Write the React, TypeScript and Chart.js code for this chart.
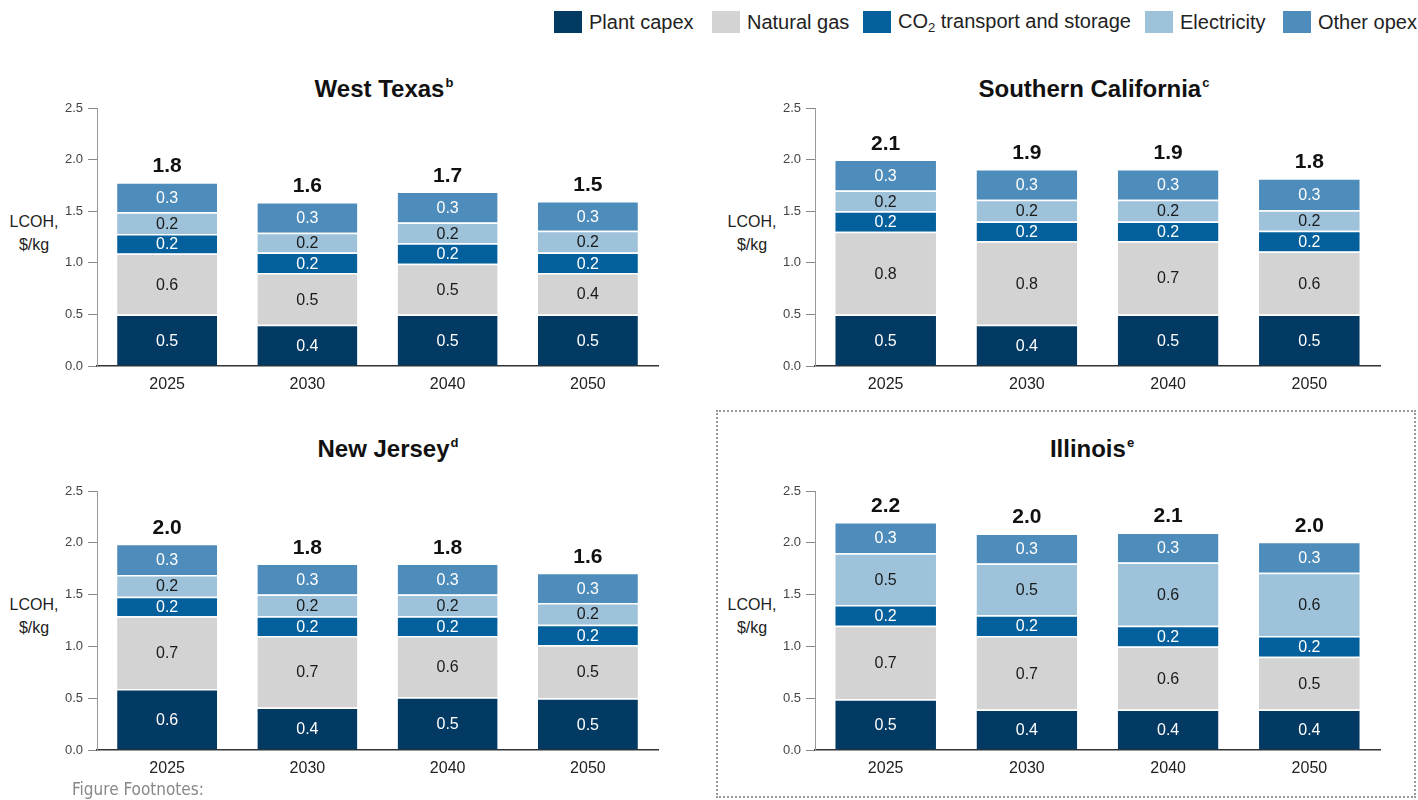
import React, { useEffect, useRef } from "react";
import { Chart, registerables } from "chart.js";

Chart.register(...registerables);
Chart.defaults.font.family = '"Liberation Sans", Arial, Helvetica, sans-serif';

// ---------- data ----------
const years = ["2025", "2030", "2040", "2050"];
const seriesNames = ["Plant capex", "Natural gas", "CO2 transport and storage", "Electricity", "Other opex"];
const seriesColors = ["#023A63", "#D3D3D3", "#03609C", "#9DC2DA", "#4E8DBB"];
const segmentLabelColors = ["#FFFFFF", "#1A1A1A", "#FFFFFF", "#1A1A1A", "#FFFFFF"];
const yTickValues = [0, 0.5, 1.0, 1.5, 2.0, 2.5];

const westTexasCapex = [0.5, 0.4, 0.5, 0.5];
const westTexasGas = [0.59, 0.5, 0.49, 0.4];
const westTexasCo2 = [0.19, 0.2, 0.2, 0.2];
const westTexasElectricity = [0.21, 0.19, 0.2, 0.21];
const westTexasOther = [0.29, 0.3, 0.3, 0.29];
const westTexasTotals = ["1.8", "1.6", "1.7", "1.5"];

const socalCapex = [0.5, 0.4, 0.5, 0.5];
const socalGas = [0.8, 0.81, 0.71, 0.61];
const socalCo2 = [0.2, 0.19, 0.19, 0.2];
const socalElectricity = [0.2, 0.21, 0.21, 0.2];
const socalOther = [0.3, 0.3, 0.3, 0.31];
const socalTotals = ["2.1", "1.9", "1.9", "1.8"];

const newJerseyCapex = [0.59, 0.41, 0.51, 0.5];
const newJerseyGas = [0.7, 0.69, 0.59, 0.51];
const newJerseyCo2 = [0.19, 0.19, 0.19, 0.2];
const newJerseyElectricity = [0.21, 0.21, 0.21, 0.21];
const newJerseyOther = [0.3, 0.3, 0.3, 0.29];
const newJerseyTotals = ["2.0", "1.8", "1.8", "1.6"];

const illinoisCapex = [0.49, 0.39, 0.39, 0.39];
const illinoisGas = [0.71, 0.71, 0.61, 0.51];
const illinoisCo2 = [0.2, 0.2, 0.2, 0.2];
const illinoisElectricity = [0.5, 0.5, 0.61, 0.61];
const illinoisOther = [0.3, 0.29, 0.29, 0.3];
const illinoisTotals = ["2.2", "2.0", "2.1", "2.0"];

// ---------- layout ----------
const AXW = 60; // y-axis width
const AXH = 32; // x-axis height
const PAD_T = 20;
const PAD_R = 10;

type PanelDef = {
  title: string;
  sup: string;
  series: number[][];
  totals: string[];
  plot: { left: number; top: number; right: number; bottom: number };
  titleCenter: number;
  titleTop: number;
};

const panels: PanelDef[] = [
  {
    title: "West Texas",
    sup: "b",
    series: [westTexasCapex, westTexasGas, westTexasCo2, westTexasElectricity, westTexasOther],
    totals: westTexasTotals,
    plot: { left: 97, top: 108, right: 658, bottom: 366 },
    titleCenter: 384,
    titleTop: 77,
  },
  {
    title: "Southern California",
    sup: "c",
    series: [socalCapex, socalGas, socalCo2, socalElectricity, socalOther],
    totals: socalTotals,
    plot: { left: 815, top: 108, right: 1380, bottom: 366 },
    titleCenter: 1094,
    titleTop: 77,
  },
  {
    title: "New Jersey",
    sup: "d",
    series: [newJerseyCapex, newJerseyGas, newJerseyCo2, newJerseyElectricity, newJerseyOther],
    totals: newJerseyTotals,
    plot: { left: 97, top: 491, right: 658, bottom: 750 },
    titleCenter: 388,
    titleTop: 437,
  },
  {
    title: "Illinois",
    sup: "e",
    series: [illinoisCapex, illinoisGas, illinoisCo2, illinoisElectricity, illinoisOther],
    totals: illinoisTotals,
    plot: { left: 815, top: 491, right: 1380, bottom: 750 },
    titleCenter: 1092,
    titleTop: 437,
  },
];

function Panel({ p }: { p: PanelDef }) {
  const ref = useRef<HTMLCanvasElement | null>(null);
  const width = p.plot.right - p.plot.left + AXW + PAD_R;
  const height = p.plot.bottom - p.plot.top + PAD_T + AXH;

  useEffect(() => {
    if (!ref.current) return;
    const labelPlugin = {
      id: "segmentAndTotals",
      afterDatasetsDraw(chart: any) {
        const ctx = chart.ctx;
        ctx.save();
        ctx.textAlign = "center";
        ctx.textBaseline = "alphabetic";
        chart.data.datasets.forEach((ds: any, i: number) => {
          const meta = chart.getDatasetMeta(i);
          ctx.font = '16px "Liberation Sans", Arial, sans-serif';
          ctx.fillStyle = segmentLabelColors[i];
          meta.data.forEach((bar: any, j: number) => {
            const v = ds.data[j] as number;
            const cy = (bar.y + bar.base) / 2;
            ctx.fillText(v.toFixed(1), bar.x, cy + 5.7);
          });
        });
        const last = chart.getDatasetMeta(chart.data.datasets.length - 1);
        ctx.font = 'bold 21px "Liberation Sans", Arial, sans-serif';
        ctx.fillStyle = "#111111";
        last.data.forEach((bar: any, j: number) => {
          ctx.fillText(p.totals[j], bar.x, bar.y - 10);
        });
        ctx.restore();
      },
    };

    const chart = new Chart(ref.current, {
      type: "bar",
      data: {
        labels: years,
        datasets: p.series.map((d, i) => ({
          label: seriesNames[i],
          data: d,
          backgroundColor: seriesColors[i],
          borderColor: "rgba(255,255,255,0.85)",
          borderWidth: { top: 1.5, bottom: 0, left: 0, right: 0 },
          borderSkipped: false,
          categoryPercentage: 1,
          barPercentage: 0.713,
        })),
      },
      options: {
        responsive: false,
        animation: false,
        devicePixelRatio: 1,
        layout: { padding: { top: PAD_T, right: PAD_R, left: 0, bottom: 0 } },
        plugins: {
          legend: { display: false },
          tooltip: { enabled: false },
          title: { display: false },
        },
        scales: {
          x: {
            stacked: true,
            grid: { display: false, drawTicks: false },
            border: { display: true, color: "#333333", width: 1.5 },
            ticks: { color: "#222222", font: { size: 16 }, padding: 9 },
            afterFit: (s: any) => {
              s.height = AXH;
            },
          },
          y: {
            stacked: true,
            min: 0,
            max: 2.5,
            afterBuildTicks: (s: any) => {
              s.ticks = yTickValues.map((v) => ({ value: v }));
            },
            ticks: {
              color: "#444444",
              font: { size: 13 },
              padding: 5,
              callback: (v: any) => Number(v).toFixed(1),
            },
            grid: { drawOnChartArea: false, drawTicks: true, tickLength: 9, color: "#888888" },
            border: { display: true, color: "#999999", width: 1 },
            afterFit: (s: any) => {
              s.width = AXW;
            },
          },
        },
      } as any,
      plugins: [labelPlugin],
    });
    return () => chart.destroy();
  }, [p]);

  return (
    <>
      <div
        style={{
          position: "absolute",
          left: p.titleCenter - 250,
          width: 500,
          top: p.titleTop,
          textAlign: "center",
          fontSize: 24,
          lineHeight: "24px",
          fontWeight: "bold",
          color: "#111",
          whiteSpace: "nowrap",
        }}
      >
        {p.title}
        <span style={{ fontSize: 13, position: "relative", top: -10, marginLeft: 1 }}>{p.sup}</span>
      </div>
      <div
        style={{
          position: "absolute",
          left: p.plot.left - 63 - 40,
          width: 80,
          top: p.plot.top + 102,
          textAlign: "center",
          fontSize: 16,
          lineHeight: "23px",
          color: "#222",
        }}
      >
        LCOH,
        <br />
        $/kg
      </div>
      <canvas
        ref={ref}
        width={width}
        height={height}
        style={{
          position: "absolute",
          left: p.plot.left - AXW,
          top: p.plot.top - PAD_T,
          width,
          height,
        }}
      />
    </>
  );
}

const legendLefts = [554, 712, 863, 1145, 1283];

export default function App() {
  return (
    <div
      style={{
        position: "fixed",
        left: 0,
        top: 0,
        width: 1418,
        height: 800,
        background: "#ffffff",
        fontFamily: '"Liberation Sans", Arial, Helvetica, sans-serif',
        overflow: "hidden",
      }}
    >
      {seriesNames.map((name, i) => (
        <div
          key={name}
          style={{
            position: "absolute",
            left: legendLefts[i],
            top: 10,
            height: 24,
            display: "flex",
            alignItems: "center",
            whiteSpace: "nowrap",
          }}
        >
          <div style={{ width: 28, height: 22, background: seriesColors[i], marginRight: 7 }} />
          <span style={{ fontSize: 20, color: "#222" }}>
            {i === 2 ? (
              <>
                CO<sub style={{ fontSize: 13, verticalAlign: "-4px" }}>2</sub> transport and storage
              </>
            ) : (
              name
            )}
          </span>
        </div>
      ))}

      <div
        style={{
          position: "absolute",
          left: 716,
          top: 410,
          width: 700,
          height: 388,
          boxSizing: "border-box",
          border: "2px dotted #999",
        }}
      />

      {panels.map((p) => (
        <Panel key={p.title} p={p} />
      ))}

      <div
        style={{
          position: "absolute",
          left: 72,
          top: 779,
          fontSize: 17,
          lineHeight: "20px",
          color: "#888",
          fontFamily: '"Liberation Sans Narrow", "DejaVu Sans Condensed", "Liberation Sans", sans-serif',
        }}
      >
        Figure Footnotes:
      </div>
    </div>
  );
}
